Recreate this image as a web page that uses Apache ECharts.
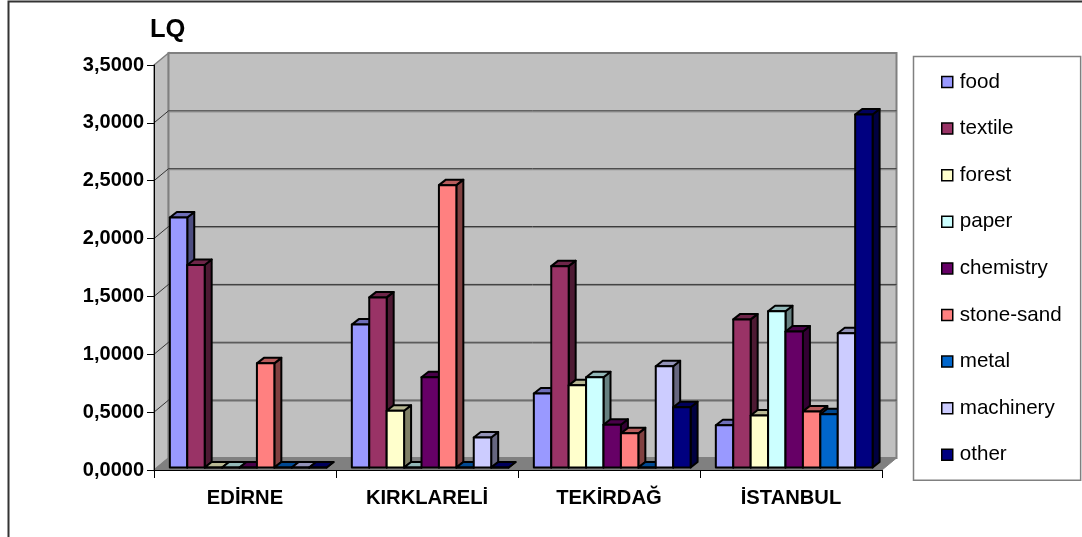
<!DOCTYPE html>
<html><head><meta charset="utf-8">
<style>html,body{margin:0;padding:0;background:#fff}#c{width:1082px;height:537px}</style>
<script src="https://cdn.jsdelivr.net/npm/echarts@6/dist/echarts.min.js"></script>
</head><body><div id="c"></div>
<script>
const categories = ['EDİRNE','KIRKLARELİ','TEKİRDAĞ','İSTANBUL'];
const food      = [2.16, 1.235, 0.64, 0.365];
const textile   = [1.75, 1.47, 1.74, 1.28];
const forest    = [0, 0.49, 0.71, 0.45];
const paper     = [0, 0, 0.78, 1.35];
const chemistry = [0, 0.78, 0.37, 1.175];
const stoneSand = [0.90, 2.44, 0.295, 0.485];
const metal     = [0, 0, 0, 0.46];
const machinery = [0, 0.26, 0.875, 1.16];
const other     = [0, 0, 0.52, 3.05];
const seriesNames = ['food','textile','forest','paper','chemistry','stone-sand','metal','machinery','other'];
const seriesValues = [food,textile,forest,paper,chemistry,stoneSand,metal,machinery,other];
const colors = ['#9999FF','#993366','#FFFFCC','#CCFFFF','#660066','#FF8080','#0066CC','#CCCCFF','#000080'];
const yTicks = [0,0.5,1,1.5,2,2.5,3,3.5];

const FONT = '"Liberation Sans", Arial, sans-serif';
const DX = 14.5, DY = 12;          // wall depth
const BAR_DX = 7, BAR_DY = 5.5;    // bar depth
const BAR_INSET = 2.5;             // bars stand a little behind the front edge
const BAR_W = 0.0957, GROUP_OFF = 0.087; // fractions of a category band

function shade(hex, k){
  const n = parseInt(hex.slice(1),16);
  const c = s => Math.round(((n>>s)&255)*k);
  return `rgb(${c(16)},${c(8)},${c(0)})`;
}
function renderWall(params, api){
  const cs = params.coordSys;
  const l = cs.x, r = cs.x + cs.width, b = cs.y + cs.height, t = cs.y;
  const ch = [
    {type:'polygon',shape:{points:[[l,b],[l+DX,b-DY],[l+DX,t-DY],[l,t]]},style:{fill:'#C0C0C0',stroke:'#808080',lineWidth:1.5}},
    {type:'rect',shape:{x:l+DX,y:t-DY,width:r-l,height:b-t},style:{fill:'#C0C0C0',stroke:'#808080',lineWidth:2}},
    {type:'polygon',shape:{points:[[l,b],[l+DX,b-DY],[r+DX,b-DY],[r,b]]},style:{fill:'#808080',stroke:'#808080',lineWidth:1}}
  ];
  yTicks.slice(1,-1).forEach(v=>{
    const y = api.coord([0,v])[1];
    ch.push({type:'line',shape:{x1:l+DX,y1:y-DY,x2:r+DX,y2:y-DY},style:{stroke:'#333',lineWidth:1}});
    ch.push({type:'line',shape:{x1:l+DX,y1:y-DY+1,x2:r+DX,y2:y-DY+1},style:{stroke:'#808080',lineWidth:1}});
    ch.push({type:'line',shape:{x1:l,y1:y,x2:l+DX,y2:y-DY},style:{stroke:'#333',lineWidth:1}});
  });
  return {type:'group',children:ch};
}
function barRenderer(si){
  return function(params, api){
    const cat = api.value(0), val = api.value(1);
    const band = api.size([1,0])[0];
    const left0 = api.coord([cat,0])[0] - band/2;
    const x0 = left0 + band*(GROUP_OFF + BAR_W*si);
    const x1 = x0 + band*BAR_W;
    const yb = api.coord([cat,0])[1] - BAR_INSET;
    const yt = api.coord([cat,val])[1] - BAR_INSET;
    const c = colors[si];
    const st = f => ({fill:f,stroke:'#000',lineWidth:2,lineJoin:'round'});
    return {type:'group',children:[
      {type:'polygon',shape:{points:[[x1,yb],[x1+BAR_DX,yb-BAR_DY],[x1+BAR_DX,yt-BAR_DY],[x1,yt]]},style:st(shade(c,0.5))},
      {type:'polygon',shape:{points:[[x0,yt],[x0+BAR_DX,yt-BAR_DY],[x1+BAR_DX,yt-BAR_DY],[x1,yt]]},style:st(shade(c,0.72))},
      {type:'rect',shape:{x:x0,y:yt,width:x1-x0,height:yb-yt},style:st(c)}
    ]};
  };
}
const chart = echarts.init(document.getElementById('c'),null,{renderer:'canvas'});
chart.setOption({
  animation:false,
  backgroundColor:'#fff',
  title:{text:'LQ',left:145,top:12,textStyle:{fontFamily:FONT,fontSize:25.5,fontWeight:'bold',color:'#000'}},
  graphic:[
    {type:'polyline',silent:true,shape:{points:[[8.5,537],[8.5,1.5],[1082,1.5]]},style:{fill:'none',stroke:'#333',lineWidth:2}}
  ],
  legend:{
    data:seriesNames,orient:'vertical',left:913.5,top:56.5,
    padding:[15,19,15,27.5],itemGap:25.6,itemWidth:11,itemHeight:11,icon:'rect',
    backgroundColor:'#fff',borderColor:'#808080',borderWidth:1.5,
    itemStyle:{borderColor:'#000',borderWidth:1.5},
    textStyle:{fontFamily:FONT,fontSize:20.6,color:'#000',padding:[0,0,0,2]}
  },
  grid:{left:154,right:200,top:65,bottom:67,containLabel:false},
  xAxis:{type:'category',data:categories,z:1,
    axisLine:{lineStyle:{color:'#000',width:1}},
    axisTick:{show:true,length:8,lineStyle:{color:'#000',width:1},alignWithLabel:false},
    axisLabel:{fontFamily:FONT,fontSize:20.2,fontWeight:'bold',color:'#000',margin:18},
    splitLine:{show:false}},
  yAxis:{type:'value',min:0,max:3.5,interval:0.5,z:1,
    axisLine:{show:true,lineStyle:{color:'#000',width:1}},
    axisTick:{show:true,length:7,lineStyle:{color:'#000',width:1}},
    axisLabel:{fontFamily:FONT,fontSize:20,fontWeight:'bold',color:'#000',margin:10,padding:[5,0,0,0],
      formatter:v=>v.toFixed(4).replace('.',',')},
    splitLine:{show:false}},
  series:[
    {type:'custom',name:'wall',z:0,silent:true,data:[[0,0]],renderItem:renderWall,encode:{x:0,y:1}}
  ].concat(seriesNames.map((n,si)=>({
    type:'custom',name:n,z:2,clip:false,
    itemStyle:{color:colors[si]},
    data:seriesValues[si].map((v,i)=>[i,v]),
    encode:{x:0,y:1},
    renderItem:barRenderer(si)
  })))
});
</script></body></html>
